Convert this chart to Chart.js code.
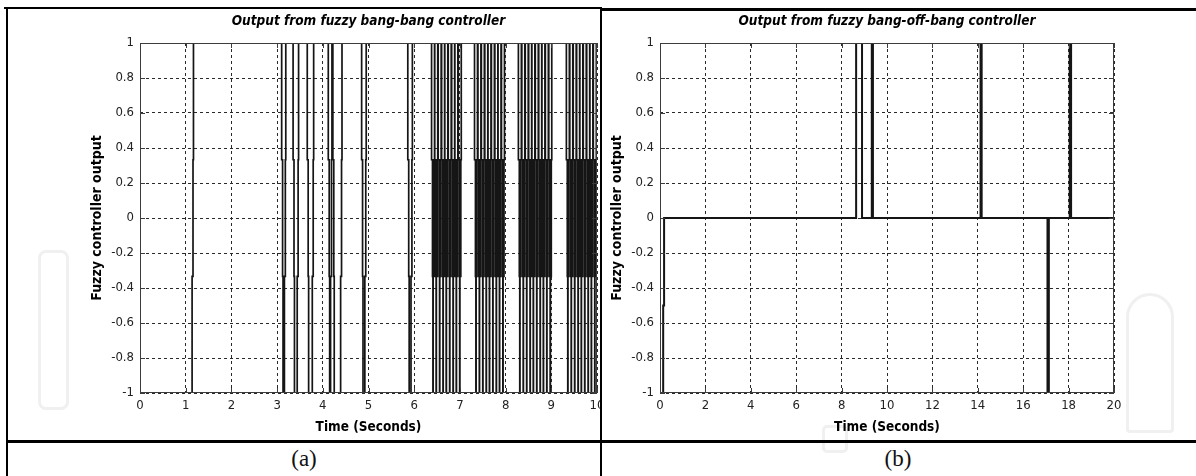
<!DOCTYPE html>
<html>
<head>
<meta charset="utf-8">
<title>Fuzzy controller output</title>
<script src="https://cdn.jsdelivr.net/npm/chart.js@4.4.1/dist/chart.umd.min.js"></script>
<style>
  html, body { margin: 0; padding: 0; background: #fff; }
  #page { position: relative; width: 1196px; height: 476px; overflow: hidden; background: #fff; }
  .rule { position: absolute; background: #000; }
  .logo { position: absolute; border: 3px solid #f0f0f0; box-sizing: border-box; }
  canvas { position: absolute; top: 0; }
  .caption {
    position: absolute; top: 446px; width: 200px; text-align: center;
    font-family: 'Liberation Serif', 'DejaVu Serif', serif; font-size: 23px; color: #111;
  }
</style>
</head>
<body>
<div id="page">
  <!-- faint logo outlines in the background -->
  <div class="logo" style="left:38px; top:250px; width:31px; height:160px; border-radius:8px;"></div>
  <div class="logo" style="left:1126px; top:293px; width:48px; height:140px; border-radius:24px 24px 4px 4px;"></div>
  <div class="logo" style="left:822px; top:425px; width:26px; height:28px; border-radius:5px;"></div>

  <canvas id="chartA" width="600" height="440" style="left:0px;"></canvas>
  <canvas id="chartB" width="596" height="440" style="left:600px;"></canvas>

  <!-- table rules -->
  <div class="rule" style="left:4px; top:7px; width:598px; height:2px;"></div>
  <div class="rule" style="left:600px; top:8px; width:596px; height:3px;"></div>
  <div class="rule" style="left:6px; top:7px; width:2px; height:469px;"></div>
  <div class="rule" style="left:600px; top:7px; width:2px; height:469px;"></div>
  <div class="rule" style="left:6px; top:440px; width:1190px; height:3px;"></div>

  <div class="caption" style="left:204px;">(a)</div>
  <div class="caption" style="left:798px;">(b)</div>
</div>

<script>
// bang-bang output: switching instants (s)
const riseA = [1.14, 3.16, 3.44, 3.77, 4.17, 4.39, 4.92, 5.93,
  6.415, 6.485, 6.56, 6.635, 6.705, 6.78, 6.855, 6.925, 7.0,
  7.355, 7.43, 7.505, 7.58, 7.65, 7.725, 7.80, 7.87, 7.945,
  8.315, 8.39, 8.465, 8.54, 8.61, 8.685, 8.76, 8.83, 8.905, 8.98,
  9.365, 9.44, 9.515, 9.59, 9.66, 9.735, 9.81, 9.88, 9.955];
const fallA = [3.10, 3.35, 3.66, 4.12, 4.22, 4.85, 5.86,
  6.38, 6.45, 6.525, 6.60, 6.67, 6.745, 6.82, 6.89, 6.965,
  7.32, 7.395, 7.47, 7.545, 7.615, 7.69, 7.765, 7.835, 7.91,
  8.28, 8.355, 8.43, 8.505, 8.575, 8.65, 8.725, 8.795, 8.87, 8.945,
  9.33, 9.405, 9.48, 9.555, 9.625, 9.70, 9.775, 9.845, 9.92];
// output levels of the fuzzy bang-bang controller, and the lag of each step of an edge (s)
const levelsA = [-1, -0.333, 0.333, 1];
const edgeLagA = [0, 0.02, 0.03];

// bang-off-bang output
const timesB = [0, 0.14, 0.18, 8.64, 8.90, 9.33, 9.38, 14.12, 14.17, 17.07, 17.13, 18.05, 18.11, 20];
const valuesB = [-1, -0.5, 0, 1, 0, 1, 0, 1, 0, -1, 0, 1, 0, 0];

const xTicksA = [0, 1, 2, 3, 4, 5, 6, 7, 8, 9, 10];
const xTicksB = [0, 2, 4, 6, 8, 10, 12, 14, 16, 18, 20];
const yTicks = [-1, -0.8, -0.6, -0.4, -0.2, 0, 0.2, 0.4, 0.6, 0.8, 1];

const narrow = "'Liberation Sans Narrow', 'DejaVu Sans Condensed', 'Roboto Condensed', sans-serif";

// each edge steps through the intermediate levels
function buildSignalA() {
  const edges = riseA.map(t => ({ t, up: true })).concat(fallA.map(t => ({ t, up: false })));
  edges.sort((a, b) => a.t - b.t);
  const pts = [{ x: 0, y: levelsA[0] }];
  edges.forEach(e => {
    const seq = e.up ? levelsA.slice(1) : levelsA.slice(0, 3).reverse();
    seq.forEach((v, i) => pts.push({ x: e.t + edgeLagA[i], y: v }));
  });
  pts.push({ x: 10, y: 1 });
  return pts;
}

const signalB = timesB.map((t, i) => ({ x: t, y: valuesB[i] }));

// box round the axes and inward tick marks
const plotBox = {
  id: 'plotBox',
  afterDatasetsDraw(chart) {
    const { ctx, chartArea: a, scales } = chart;
    ctx.save();
    ctx.strokeStyle = '#3c3c3c';
    ctx.lineWidth = 1;
    ctx.beginPath();
    scales.x.ticks.forEach(t => {
      const px = Math.round(scales.x.getPixelForValue(t.value)) + 0.5;
      ctx.moveTo(px, a.bottom); ctx.lineTo(px, a.bottom - 5);
      ctx.moveTo(px, a.top); ctx.lineTo(px, a.top + 5);
    });
    scales.y.ticks.forEach(t => {
      const py = Math.round(scales.y.getPixelForValue(t.value)) + 0.5;
      ctx.moveTo(a.left, py); ctx.lineTo(a.left + 5, py);
      ctx.moveTo(a.right, py); ctx.lineTo(a.right - 5, py);
    });
    ctx.stroke();
    ctx.strokeRect(a.left + 0.5, a.top + 0.5, a.right - a.left - 1, a.bottom - a.top - 1);
    ctx.restore();
  }
};

function makeChart(id, data, lineWidth, xMax, xTicks, titleText, pad) {
  return new Chart(document.getElementById(id), {
    type: 'line',
    data: {
      datasets: [{
        data: data,
        stepped: true,
        borderColor: '#151515',
        borderWidth: lineWidth,
        pointRadius: 0,
        fill: false
      }]
    },
    options: {
      responsive: false,
      animation: false,
      devicePixelRatio: 1,
      layout: { padding: pad },
      plugins: {
        legend: { display: false },
        tooltip: { enabled: false },
        title: {
          display: true,
          text: titleText,
          fullSize: false,
          color: '#000',
          font: { family: narrow, size: 13.5, weight: 'bold', style: 'italic' },
          padding: { top: 13, bottom: 13.8 }
        }
      },
      scales: {
        x: {
          type: 'linear',
          min: 0,
          max: xMax,
          afterBuildTicks: s => { s.ticks = xTicks.map(v => ({ value: v })); },
          afterFit: s => { s.height = 47; s.paddingLeft = 0; s.paddingRight = 0; },
          grid: { color: '#2a2a2a', lineWidth: 1, drawTicks: false },
          border: { display: false, dash: [3, 3] },
          ticks: { color: '#222', padding: 5, maxRotation: 0, font: { family: narrow, size: 13 } },
          title: {
            display: true,
            text: 'Time (Seconds)',
            color: '#000',
            font: { family: narrow, size: 13.5, weight: 'bold' },
            padding: { top: 0, bottom: 4 }
          }
        },
        y: {
          type: 'linear',
          min: -1,
          max: 1,
          afterBuildTicks: s => { s.ticks = yTicks.map(v => ({ value: v })); },
          afterFit: s => { s.width = 60; },
          grid: { color: '#2a2a2a', lineWidth: 1, drawTicks: false },
          border: { display: false, dash: [3, 3] },
          ticks: {
            color: '#222',
            padding: 6,
            font: { family: narrow, size: 13 },
            callback: v => String(Number(v.toFixed(1)))
          },
          title: {
            display: true,
            text: 'Fuzzy controller output',
            color: '#000',
            font: { family: narrow, size: 14, weight: 'bold' },
            padding: { top: 9, bottom: 0 }
          }
        }
      }
    },
    plugins: [plotBox]
  });
}

makeChart('chartA', buildSignalA(), 1.7, 10, xTicksA,
  'Output from fuzzy bang-bang controller', { left: 80, right: 3, top: 0, bottom: 0 });
makeChart('chartB', signalB, 2, 20, xTicksB,
  'Output from fuzzy bang-off-bang controller', { left: 0, right: 82, top: 0, bottom: 0 });
</script>
</body>
</html>
